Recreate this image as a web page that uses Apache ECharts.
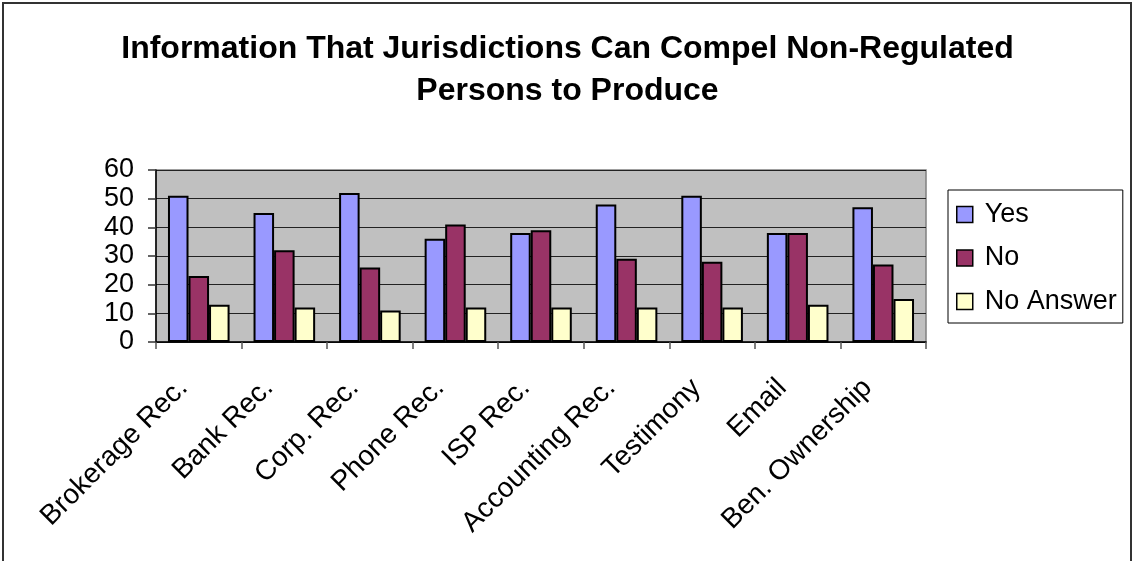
<!DOCTYPE html>
<html>
<head>
<meta charset="utf-8">
<script src="https://cdn.jsdelivr.net/npm/echarts@6/dist/echarts.min.js"></script>
<style>
  html, body { margin: 0; padding: 0; background: #fff; }
  #chart { width: 1135px; height: 561px; }
</style>
</head>
<body>
<div id="chart"></div>
<script>
// Categories of information and survey responses per category
const categories = ['Brokerage Rec.', 'Bank Rec.', 'Corp. Rec.', 'Phone Rec.', 'ISP Rec.',
                    'Accounting Rec.', 'Testimony', 'Email', 'Ben. Ownership'];
const yesValues      = [51, 45, 52, 36, 38, 48, 51, 38, 47];
const noValues       = [23, 32, 26, 41, 39, 29, 28, 38, 27];
const noAnswerValues = [13, 12, 11, 12, 12, 12, 12, 13, 15];
const yTicks = [0, 10, 20, 30, 40, 50, 60];

const FONT = '"Liberation Sans", Arial, sans-serif';

const chart = echarts.init(document.getElementById('chart'), null, { renderer: 'canvas' });

function barSeries(name, data, color) {
  return {
    name: name,
    type: 'bar',
    data: data,
    barGap: '0%',
    barCategoryGap: '28%',
    itemStyle: { color: color, borderColor: '#000', borderWidth: 2 },
    emphasis: { disabled: true }
  };
}

chart.setOption({
  animation: false,
  backgroundColor: '#fff',
  title: {
    text: 'Information That Jurisdictions Can Compel Non-Regulated\nPersons to Produce',
    left: 'center',
    top: 23,
    textStyle: { fontFamily: FONT, fontWeight: 'bold', fontSize: 32, lineHeight: 42, color: '#000' }
  },
  graphic: [{
    type: 'rect',
    shape: { x: 3, y: 3, width: 1128, height: 570 },
    style: { fill: null, stroke: '#333', lineWidth: 2 },
    silent: true
  }],
  legend: {
    orient: 'vertical',
    left: 948,
    top: 190,
    padding: [11, 6, 8, 8],
    itemGap: 16.5,
    itemWidth: 16,
    itemHeight: 16,
    icon: 'rect',
    borderColor: '#000',
    borderWidth: 1,
    backgroundColor: '#fff',
    textStyle: { fontFamily: FONT, fontSize: 27, color: '#000', padding: [0, 0, 0, 7] },
    itemStyle: { borderColor: '#000', borderWidth: 1.5 },
    data: ['Yes', 'No', 'No Answer']
  },
  grid: {
    left: 156, right: 209, top: 170, bottom: 219,
    show: true,
    backgroundColor: '#C0C0C0',
    borderColor: '#808080',
    borderWidth: 1.5
  },
  xAxis: {
    type: 'category',
    data: categories,
    axisLine: { show: true, lineStyle: { color: '#000', width: 1.5 } },
    axisTick: { show: true, alignWithLabel: false, length: 7, lineStyle: { color: '#555', width: 1.5 } },
    axisLabel: {
      interval: 0,
      rotate: 45,
      margin: 26,
      padding: [0, 22, 0, 0],
      fontFamily: FONT,
      fontSize: 28,
      color: '#000'
    },
    splitLine: { show: false }
  },
  yAxis: {
    type: 'value',
    min: yTicks[0],
    max: yTicks[yTicks.length - 1],
    interval: 10,
    axisLine: { show: true, lineStyle: { color: '#000', width: 1.5 } },
    axisTick: { show: true, length: 8, lineStyle: { color: '#333', width: 1.5 } },
    axisLabel: { margin: 22, fontFamily: FONT, fontSize: 27, color: '#000' },
    splitLine: { show: true, lineStyle: { color: '#222', width: 1.2 } }
  },
  series: [
    barSeries('Yes', yesValues, '#9999FF'),
    barSeries('No', noValues, '#993366'),
    barSeries('No Answer', noAnswerValues, '#FFFFCC')
  ]
});
</script>
</body>
</html>
